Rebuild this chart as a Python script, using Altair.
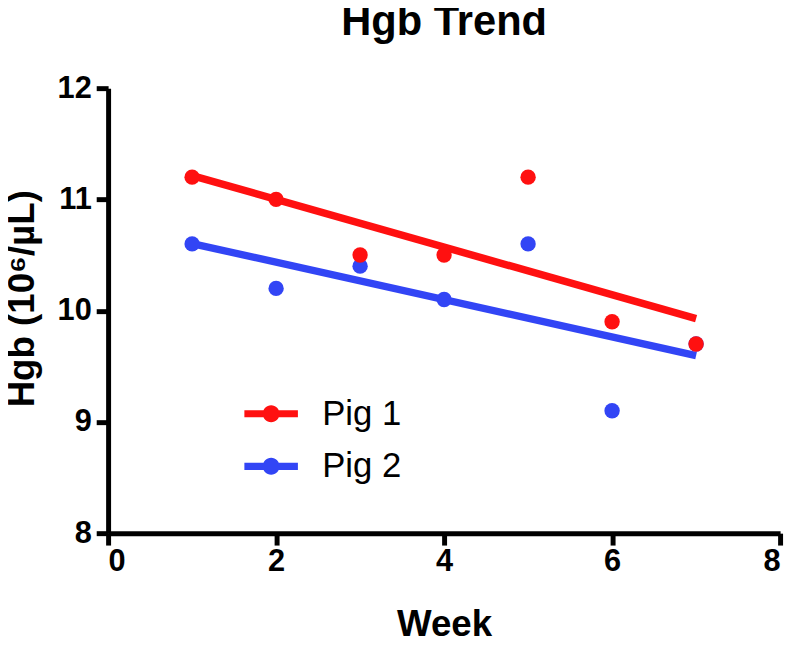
import altair as alt
import pandas as pd

weeks = [1, 2, 3, 4, 5, 6, 7]
pig1 = [11.2, 11.0, 10.5, 10.5, 11.2, 9.9, 9.7]
pig2 = [10.6, 10.2, 10.4, 10.1, 10.6, 9.1, 9.7]
series = ["Pig 1", "Pig 2"]
colors = ["#ff1010", "#3245f5"]
x_ticks = [0, 2, 4, 6, 8]
y_ticks = [8, 9, 10, 11, 12]

rows = []
for w, v in zip(weeks, pig2):
    rows.append({"week": w, "hgb": v, "pig": "Pig 2"})
for w, v in zip(weeks, pig1):
    rows.append({"week": w, "hgb": v, "pig": "Pig 1"})
df = pd.DataFrame(rows)

FONT = "Liberation Sans"

x_enc = alt.X("week:Q", scale=alt.Scale(domain=[0, 8], nice=False),
              axis=alt.Axis(values=x_ticks, title="Week", titleX=339, titleY=103,
                            titleBaseline="alphabetic", titleAlign="center",
                            labelPadding=2))
y_enc = alt.Y("hgb:Q", scale=alt.Scale(domain=[8, 12], nice=False, zero=False),
              axis=alt.Axis(values=y_ticks, title="Hgb (10\u2076/\u00b5L)",
                            titleX=-75, titleY=212, titleAngle=-90,
                            titleBaseline="alphabetic", titleAlign="center",
                            labelPadding=5))

legend_path = ("M-2,-0.27H2V0.27H-2Z "
               "M0.63,0A0.63,0.63,0,1,1,-0.63,0A0.63,0.63,0,1,1,0.63,0Z")

color_scale = alt.Scale(domain=series, range=colors)


def make_legend():
    return alt.Legend(title=None, orient="none", legendX=147, legendY=311,
                      symbolType=legend_path, symbolSize=729,
                      symbolStrokeWidth=0, labelFont=FONT,
                      labelFontSize=35, labelFontWeight="normal",
                      labelColor="black", labelOffset=34,
                      rowPadding=17, labelLimit=300)


lines = alt.Chart(df).transform_regression(
    "week", "hgb", groupby=["pig"], extent=[1, 7]
).mark_line(strokeWidth=7.5).encode(
    x=x_enc, y=y_enc,
    color=alt.Color("pig:N", scale=color_scale, legend=make_legend()),
)

points = alt.Chart(df).mark_point(filled=True, size=240, opacity=1, strokeWidth=0).encode(
    x=x_enc, y=y_enc,
    color=alt.Color("pig:N", scale=color_scale, legend=make_legend()),
    order=alt.Order("pig:N", sort="descending"),
)

chart = alt.layer(lines, points).properties(
    width=678, height=449,
    background="white",
    autosize=alt.AutoSizeParams(type="none"),
    padding={"left": 101, "top": 78, "right": 10, "bottom": 115},
    title=alt.TitleParams("Hgb Trend", font=FONT, fontSize=42, fontWeight="bold",
                          color="black", anchor="middle", frame="group",
                          baseline="alphabetic", offset=-4),
).configure_view(stroke=None).configure_axis(
    grid=False, domainColor="black", domainWidth=5, tickColor="black", tickWidth=5,
    tickSize=12, labelFont=FONT, labelFontSize=31, labelFontWeight="bold",
    labelColor="black", titleFont=FONT, titleFontSize=37, titleFontWeight="bold",
    titleColor="black"
)

chart.save("out.html", embed_options={"renderer": "svg", "actions": False})
